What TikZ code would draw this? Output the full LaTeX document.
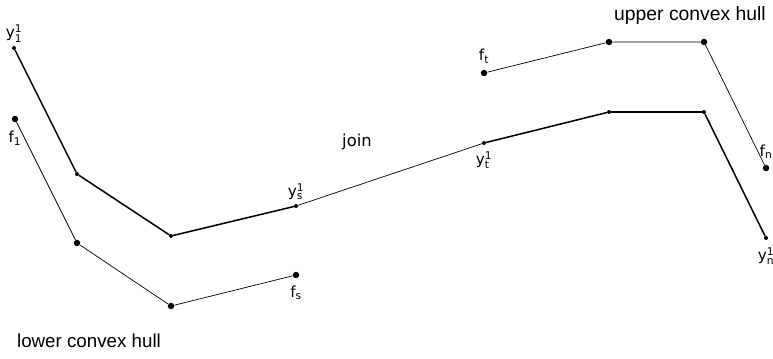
\documentclass[tikz,border=0pt]{standalone}
\usepackage{amsmath}
\usepackage{fontspec}
\setmainfont{DejaVu Sans}
\newfontfamily\hullfont{Liberation Sans}
\usetikzlibrary{positioning}

\newcommand{\yv}[1]{$\text{y}^{\text{1}}_{\text{#1}}$}
\newcommand{\fv}[1]{$\text{f}_{\text{#1}}$}

\begin{document}
\begin{tikzpicture}[x=0.03cm,y=-0.03cm,
  fpt/.style={circle,fill,inner sep=0pt,minimum size=5.5pt},
  ypt/.style={circle,fill,inner sep=0pt,minimum size=3.4pt},
  every label/.style={font=\fontsize{13}{15}\selectfont,inner sep=1pt},
  boldhull/.style={line width=1.3pt},
  thinhull/.style={line width=0.6pt}]
\useasboundingbox (0,0) rectangle (773,358);
% lower polygonal chain y^1
\node[ypt,label={[label distance=2pt]above:\yv{1}}] (y1) at (14,48) {};
\node[ypt] (y2) at (77,174) {};
\node[ypt] (y3) at (171,236) {};
\node[ypt,label={[label distance=2pt]above:\yv{s}}] (ys) at (296,206) {};
\node[ypt,label={[label distance=4pt]below:\yv{t}}] (yt) at (484,143) {};
\node[ypt] (y6) at (609,112) {};
\node[ypt] (y7) at (704,112) {};
\node[ypt,label={[label distance=5pt]below:\yv{n}}] (yn) at (766,238) {};
% the two hulls of f
\node[fpt,label={[label distance=6pt]below:\fv{1}}] (f1) at (15,119) {};
\node[fpt] (f2) at (77,243) {};
\node[fpt] (f3) at (171,306) {};
\node[fpt,label={[label distance=5pt]below:\fv{s}}] (fs) at (296,275) {};
\node[fpt,label={[label distance=4pt]above:\fv{t}}] (ft) at (484,73) {};
\node[fpt] (f6) at (609,42) {};
\node[fpt] (f7) at (704,42) {};
\node[fpt,label={[label distance=4pt]above:\fv{n}}] (fn) at (766,168) {};

\draw[boldhull] (y1) -- (y2) -- (y3) -- (ys);
\draw[thinhull] (ys) -- (yt);
\draw[boldhull] (yt) -- (y6) -- (y7) -- (yn);
\draw[thinhull] (f1) -- (f2) -- (f3) -- (fs);
\draw[thinhull] (ft) -- (f6) -- (f7) -- (fn);

\node[font=\fontsize{14}{16}\selectfont] (join) at (357,142) {join};
\node[font=\hullfont\fontsize{16.5}{18}\selectfont] (upper) at (690,15) {upper convex hull};
\node[font=\hullfont\fontsize{16}{18}\selectfont] (lower) at (89,341) {lower convex hull};
\end{tikzpicture}
\end{document}
